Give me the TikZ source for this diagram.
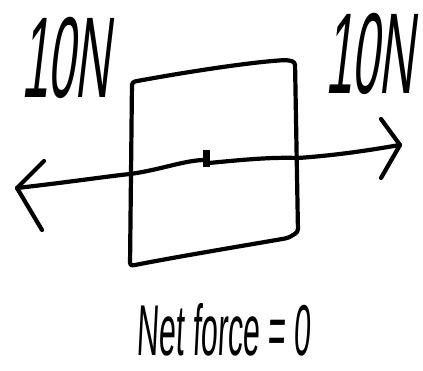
\documentclass[tikz,border=0pt]{standalone}
\usepackage{fontspec}
\setmainfont{Liberation Sans}
\begin{document}
\begin{tikzpicture}[x=1pt,y=-1pt,
  ink/.style={line width=4.2pt,line cap=round,line join=round,black},
  handlabel/.style={inner sep=0pt,font=\fontsize{115}{115}\selectfont,xscale=0.42,xslant=0.28},
  handnote/.style={inner sep=0pt,font=\fontsize{72}{72}\selectfont,xscale=0.42,xslant=0.12}]
\fill[white] (0,0) rectangle (423,371);
\useasboundingbox (0,0) rectangle (423,371);
% box corners
\coordinate (tl) at (132,82);
\coordinate (tr) at (295,62);
\coordinate (br) at (298,232);
\coordinate (bl) at (130,266);
\draw[ink,rounded corners=3pt] (tl) .. controls (180,73) and (250,62) .. (287,60) -- (tr) -- (br) -- (288,238)
  .. controls (230,248) and (170,258) .. (bl) -- cycle;
% force line
\coordinate (L) at (17,188);
\coordinate (R) at (400,145);
\coordinate (c) at (207,158);
\draw[ink] (L) .. controls (70,182) and (110,176) .. (130,174)
  .. controls (160,170) and (185,160) .. (205,160)
  (209,163) .. controls (240,160) and (270,157) .. (298,158)
  .. controls (340,155) and (370,150) .. (R);
\fill (203,150) rectangle (210,167);
% arrowheads
\draw[ink] (44,161) -- (L) -- (42,230);
\draw[ink] (381,119) -- (R) -- (381,178);
% labels
\node[handlabel] (fl) at (70,58) {10N};
\node[handlabel] (fr) at (374,54) {10N};
\node[handnote] (net) at (225,330) {Net force = 0};
\end{tikzpicture}
\end{document}
